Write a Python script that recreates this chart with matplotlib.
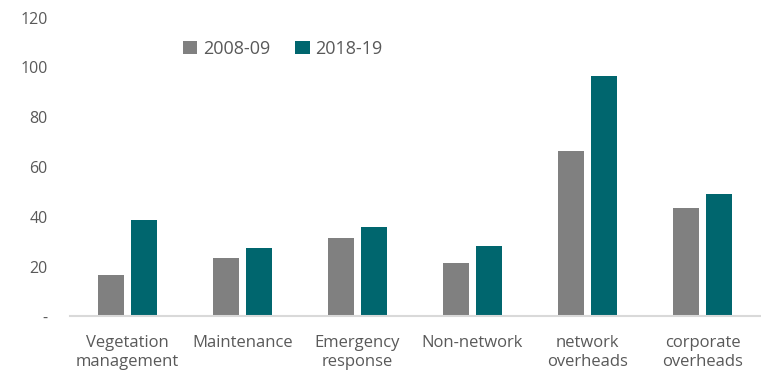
import numpy as np
import matplotlib
matplotlib.use("Agg")
import matplotlib.pyplot as plt

categories = ["Vegetation\nmanagement", "Maintenance", "Emergency\nresponse",
              "Non-network", "network\noverheads", "corporate\noverheads"]
values_0809 = [16.7, 23.4, 31.4, 21.6, 66.5, 43.5]
values_1819 = [38.7, 27.4, 35.8, 28.2, 96.6, 49.2]
yticks = [0, 20, 40, 60, 80, 100, 120]
ytick_labels = ["-", "20", "40", "60", "80", "100", "120"]

plt.rcParams['font.family'] = ['Open Sans', 'DejaVu Sans']
text_color = "#595959"

fig = plt.figure(figsize=(7.61, 3.70), dpi=100)
ax = fig.add_axes([0.092, 0.1446, 0.9067, 0.808])

x = np.arange(len(categories))
w = 0.222
off = 0.143
ax.bar(x - off, values_0809, w, color="#808080", label="2008-09", zorder=2)
ax.bar(x + off, values_1819, w, color="#00666E", label="2018-19", zorder=2)

ax.set_xlim(-0.5, len(categories) - 0.5)
ax.set_ylim(0, 120)
ax.set_yticks(yticks)
ax.set_yticklabels(ytick_labels)
ax.set_xticks(x)
ax.set_xticklabels(categories, linespacing=1.3)

for s in ["top", "right", "left"]:
    ax.spines[s].set_visible(False)
ax.spines["bottom"].set_color("#D9D9D9")
ax.spines["bottom"].set_linewidth(1.5)
ax.tick_params(axis="both", length=0, colors=text_color, labelsize=11.5)
ax.tick_params(axis="x", pad=13, labelsize=12)
ax.tick_params(axis="y", pad=16)
for lbl in ax.get_yticklabels():
    lbl.set_horizontalalignment("right")

leg = ax.legend(loc="upper left", bbox_to_anchor=(0.14, 0.98), ncol=2, frameon=False,
                fontsize=13, handlelength=0.8, handleheight=0.8, handletextpad=0.3,
                columnspacing=1.4, labelcolor=text_color)

fig.savefig("out.png", dpi=100)
